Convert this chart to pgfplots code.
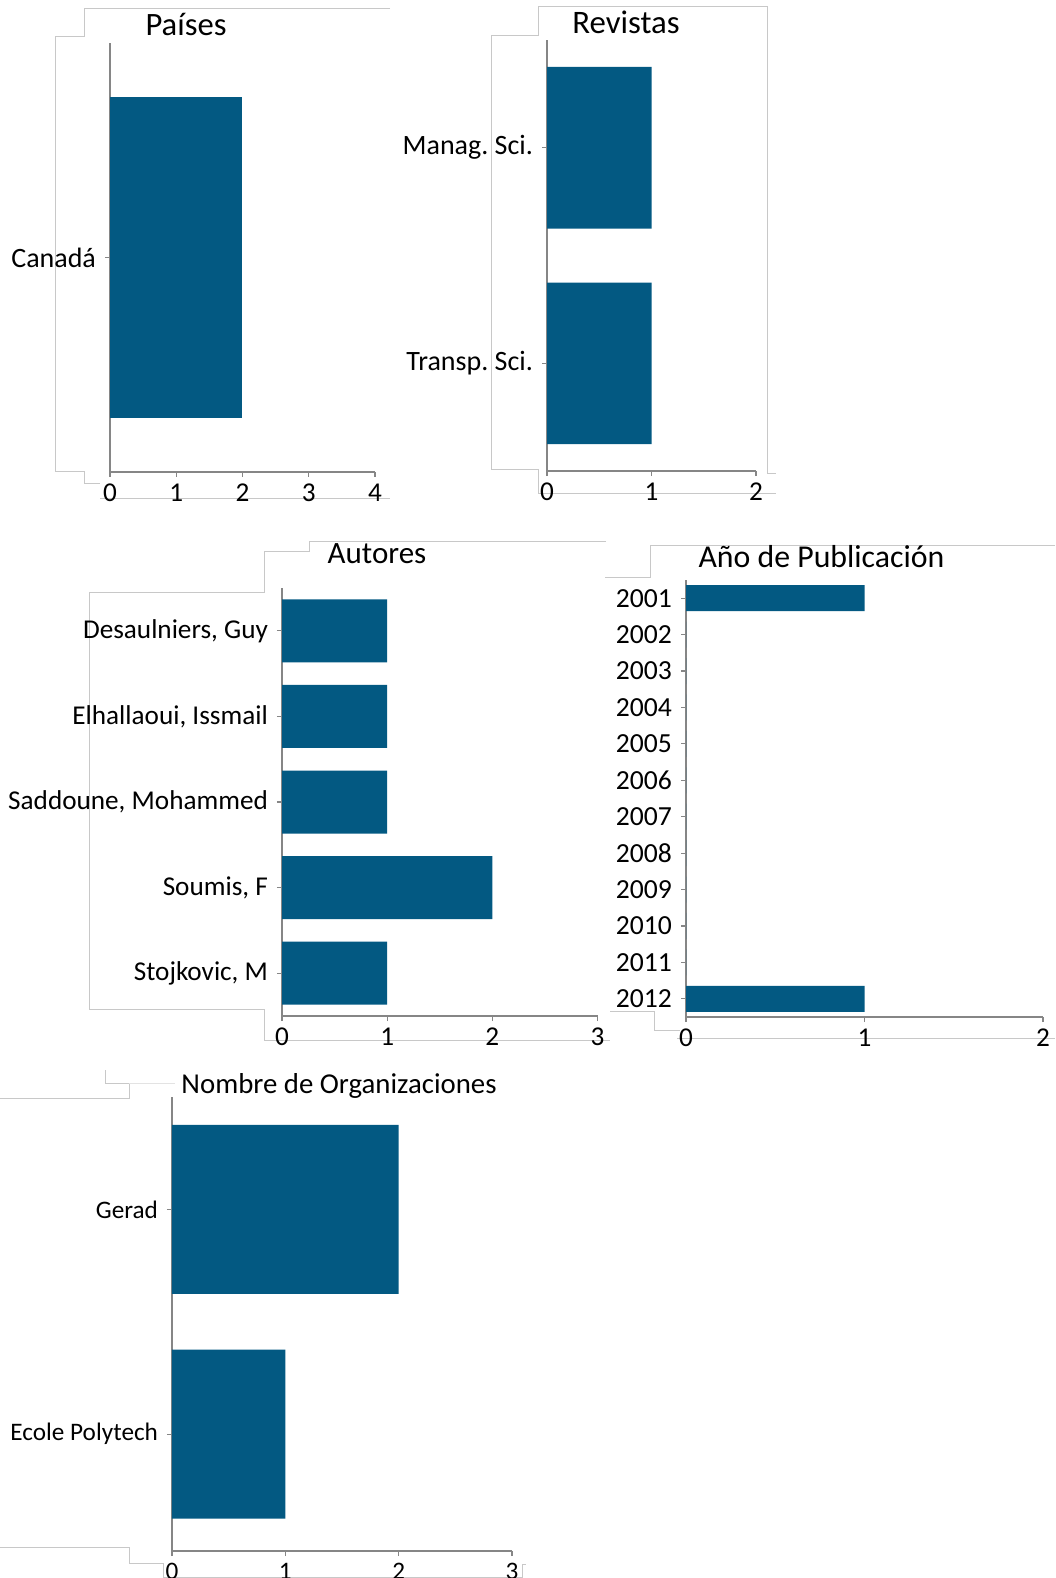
\documentclass[border=0pt]{standalone}
\usepackage{fontspec}
\setmainfont{Carlito}
\usepackage{pgfplots}
\pgfplotsset{compat=1.18}
\frenchspacing
\definecolor{barblue}{RGB}{3,89,130}
\definecolor{axgray}{RGB}{134,134,134}
\definecolor{frgray}{RGB}{200,200,200}
\pgfplotsset{
 hb/.style={
  xbar, scale only axis, anchor=north west,
  axis x line*=bottom, axis y line*=left,
  axis line style={axgray, line width=0.7pt},
  tick style={axgray, line width=0.6pt},
  tick align=outside, major tick length=2.5pt,
  xmin=0,
  /pgf/number format/assume math mode=true,
  ticklabel style={font=\fontsize{13.6}{15}\selectfont, text=black},
  yticklabel style={xshift=-1pt},
  clip=false,
 },
 bb/.style={fill=barblue, draw=none}
}
\begin{document}
\begin{tikzpicture}
\begin{scope}[x=0.5pt,y=-0.5pt,frgray,line width=0.5pt]
\draw (390,9)--(84,9)--(84,37)--(55,37)--(55,471)--(84,471)--(84,483)--(100,483);
\draw (100,498)--(390,498);
\draw (491,36)--(538,36)--(538,7)--(767,7)--(767,473)--(776,473);
\draw (491,36)--(491,469)--(538,469)--(538,493)--(776,493);
\draw (606,541)--(309,541)--(309,551)--(264,551)--(264,592)--(89,592)--(89,1009)--(264,1009)--(264,1040)--(610,1040);
\draw (1055,545)--(650,545)--(650,577)--(605,577);
\draw (610,1011)--(654,1011)--(654,1030)--(680,1030);
\draw (677,1038)--(1055,1038);
\draw (105,1070)--(105,1083)--(129,1083)--(129,1098)--(0,1098);
\draw[frgray!50] (129,1083)--(175,1083);
\draw (0,1547)--(129,1547)--(129,1563)--(163,1563)--(163,1577)--(522,1577);
\draw (522,1578)--(522,1564)--(526,1564);
\end{scope}

% Paises
\begin{axis}[hb, at={(55pt,-21.5pt)}, width=132.5pt, height=214.5pt,
  xmax=4, xtick={0,1,2,3,4}, ymin=-0.5, ymax=0.5,
  ytick={0}, yticklabels={Canadá},
  yticklabel style={font=\fontsize{14}{16}\selectfont},
  bar width=160.5pt]
\addplot[bb] coordinates {(2,0)};
\end{axis}

% Revistas
\begin{axis}[hb, at={(273.5pt,-20pt)}, width=104.5pt, height=215.5pt,
  xmax=2, xtick={0,1,2}, ymin=-0.5, ymax=1.5,
  ytick={0,1}, yticklabels={Transp. Sci., Manag. Sci.},
  yticklabel style={font=\fontsize{14}{16}\selectfont},
  bar width=80.75pt]
\addplot[bb] coordinates {(1,0) (1,1)};
\end{axis}

% Autores
\begin{axis}[hb, at={(141pt,-294pt)}, width=157.75pt, height=214pt,
  xmax=3, xtick={0,1,2,3}, y dir=reverse, ymin=-0.5, ymax=4.5,
  ytick={0,1,2,3,4},
  yticklabels={{Desaulniers, Guy},{Elhallaoui, Issmail},{Saddoune, Mohammed},{Soumis, F},{Stojkovic, M}},
  bar width=31.5pt]
\addplot[bb] coordinates {(1,0) (1,1) (1,2) (2,3) (1,4)};
\end{axis}

% Ano de publicacion
\begin{axis}[hb, at={(343pt,-290pt)}, width=178.5pt, height=218.5pt,
  xmax=2, xtick={0,1,2}, y dir=reverse, ymin=-0.5, ymax=11.5,
  ytick={0,...,11},
  yticklabels={2001,2002,2003,2004,2005,2006,2007,2008,2009,2010,2011,2012},
  yticklabel style={font=\fontsize{13.8}{15}\selectfont},
  bar width=13pt]
\addplot[bb] coordinates {(1,0) (0,1) (0,2) (0,3) (0,4) (0,5) (0,6) (0,7) (0,8) (0,9) (0,10) (1,11)};
\end{axis}

% Organizaciones
\begin{axis}[hb, at={(86pt,-548.5pt)}, width=170pt, height=227pt,
  xmax=3, xtick={0,1,2,3}, ymin=-0.52, ymax=1.5,
  ytick={0,1}, yticklabels={Ecole Polytech, Gerad},
  ticklabel style={font=\fontsize{12.6}{14}\selectfont},
  bar width=84.5pt]
\addplot[bb] coordinates {(1,0) (2,1)};
\end{axis}

\node[anchor=base, font=\fontsize{16.3}{18}\selectfont] at (93pt,-18pt) {Países};
\node[anchor=base, font=\fontsize{16.4}{18}\selectfont] at (313pt,-17pt) {Revistas};
\node[anchor=base, font=\fontsize{15.5}{18}\selectfont] at (188.5pt,-281.5pt) {Autores};
\node[anchor=base, font=\fontsize{15.9}{18}\selectfont] at (410.75pt,-283.8pt) {Año de Publicación};
\node[anchor=base, font=\fontsize{14.4}{17}\selectfont] at (169.5pt,-546.5pt) {Nombre de Organizaciones};

\pgfresetboundingbox
\useasboundingbox (0,0) rectangle (527.5pt,-789pt);
\end{tikzpicture}
\end{document}
